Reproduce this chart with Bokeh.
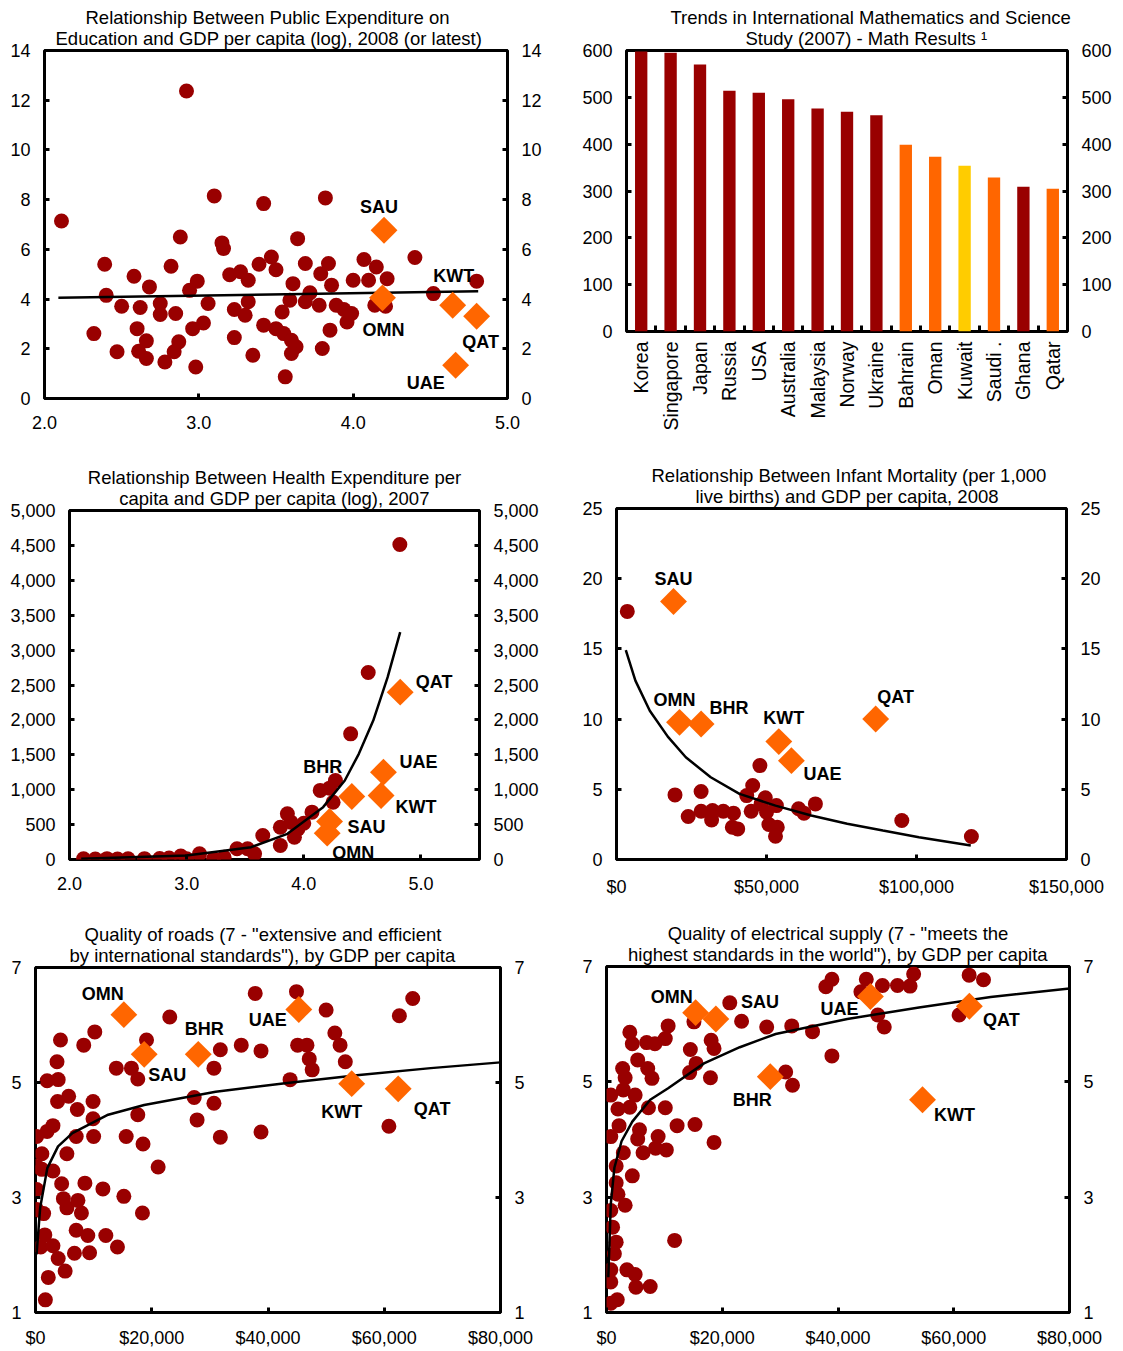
import math
from bokeh.plotting import figure
from bokeh.models import Range1d, LinearAxis, FixedTicker, NumeralTickFormatter, Title
from bokeh.layouts import column, row
from bokeh.embed import file_html
from bokeh.resources import INLINE
from bokeh.core.properties import value

FONT = "Liberation Sans"
DARK = "#990000"
ORANGE = "#FF6600"
YELLOW = "#FFCC00"

# ---------------- Panel 1: education vs log GDP ----------------
edu_x = [2.11, 2.92, 3.10, 3.42, 3.82, 2.88, 3.15, 3.16, 3.64, 2.39, 2.40, 2.32, 2.58, 2.50,
         2.47, 2.62, 2.60, 2.66, 2.66, 2.61, 2.68, 2.75, 2.75, 2.82, 2.85, 2.87, 2.78, 2.84,
         2.94, 2.99, 2.96, 3.03, 2.98, 3.06, 3.20, 3.23, 3.23, 3.30, 3.32, 3.32, 3.35, 3.39,
         3.42, 3.50, 3.47, 3.50, 3.54, 3.55, 3.56, 3.59, 3.61, 3.60, 3.63, 3.60, 3.69, 3.69,
         3.72, 3.78, 3.79, 3.80, 3.84, 3.86, 3.85, 3.89, 3.94, 3.96, 4.00, 3.99, 4.07, 4.10,
         4.15, 4.14, 4.22, 4.21, 4.40, 4.52, 4.80, 3.27]
edu_y = [7.14, 12.37, 8.15, 7.84, 8.07, 6.50, 6.26, 6.03, 6.43, 5.40, 4.15, 2.61, 4.92, 3.71,
         1.88, 3.66, 2.81, 1.61, 2.32, 1.90, 4.49, 3.82, 3.38, 5.32, 3.42, 2.28, 1.47, 1.88,
         4.35, 4.72, 2.81, 3.04, 1.27, 3.82, 4.98, 3.58, 2.45, 3.35, 3.89, 4.76, 1.74, 5.40,
         2.95, 2.81, 5.69, 5.18, 3.48, 2.61, 0.87, 3.95, 4.62, 2.34, 2.08, 1.81, 5.43, 3.89,
         4.25, 3.75, 5.02, 2.01, 5.43, 4.56, 2.75, 3.75, 3.58, 3.08, 4.76, 3.42, 5.59, 4.76,
         5.29, 3.75, 4.82, 3.71, 5.67, 4.22, 4.72, 5.10]
edu_gcc = ["SAU", "OMN", "KWT", "QAT", "UAE"]
edu_gcc_x = [4.20, 4.19, 4.645, 4.80, 4.664]
edu_gcc_y = [6.77, 4.05, 3.75, 3.31, 1.34]
edu_trend_x = [2.09, 4.81]
edu_trend_y = [4.05, 4.31]

# ---------------- Panel 2: TIMSS math ----------------
timss_countries = ["Korea", "Singapore", "Japan", "Russia", "USA", "Australia", "Malaysia",
                   "Norway", "Ukraine", "Bahrain", "Oman", "Kuwait", "Saudi .", "Ghana", "Qatar"]
timss_scores = [598, 595, 570, 514, 510, 496, 476, 469, 462, 399, 373, 354, 329, 309, 305]
timss_group = ["other"] * 9 + ["gcc", "gcc", "kwt", "gcc", "other", "gcc"]

# ---------------- Panel 3: health expenditure vs log GDP ----------------
hea_x = [4.82, 4.55, 4.40, 4.22, 4.27, 4.25, 4.07, 3.86, 3.89, 3.80, 3.95, 3.92, 3.65, 3.80,
         3.52, 3.58, 3.43, 3.32, 3.23, 3.11, 3.00, 2.95, 2.85, 2.77, 2.64, 2.50, 2.41, 2.32,
         2.22, 2.12, 4.14, 4.00]
hea_y = [4513, 2679, 1800, 1022, 1132, 821, 678, 654, 535, 463, 439, 320, 344, 200,
         153, 81, 153, 33, 10, 81, 10, 50, 20, 15, 12, 10, 8, 12,
         6, 10, 990, 520]
hea_gcc = ["QAT", "UAE", "KWT", "BHR", "SAU", "OMN"]
hea_gcc_x = [4.823, 4.68, 4.66, 4.41, 4.22, 4.20]
hea_gcc_y = [2397, 1251, 917, 903, 544, 377]
hea_trend_x = [2.10, 3.00, 3.55, 3.86, 4.165, 4.35, 4.47, 4.593, 4.716, 4.823]
hea_trend_y = [10, 57, 177, 368, 750, 1132, 1514, 1991, 2612, 3257]

# ---------------- Panel 4: infant mortality vs GDP ----------------
inf_x = [3600, 19500, 23900, 28200, 28200, 31700, 32000, 35600, 39000, 38600, 40400, 43400,
         45400, 44900, 47800, 48200, 49600, 50000, 50800, 53300, 53600, 53000, 60700, 62500,
         66300, 95100, 118300]
inf_y = [17.67, 4.60, 3.06, 4.84, 3.44, 2.82, 3.49, 3.44, 3.30, 2.30, 2.18, 4.55,
         5.27, 3.44, 6.69, 3.96, 4.39, 3.37, 2.49, 3.84, 2.30, 1.66, 3.61, 3.30,
         3.96, 2.78, 1.64]
inf_gcc = ["SAU", "OMN", "BHR", "KWT", "UAE", "QAT"]
inf_gcc_x = [19000, 21000, 28200, 54100, 58300, 86400]
inf_gcc_y = [18.38, 9.77, 9.65, 8.40, 7.04, 10.01]
inf_trend_x = [3100, 6300, 11100, 17100, 23100, 31400, 41000, 53000, 64900, 76900, 88800, 100800, 118100]
inf_trend_y = [14.92, 12.74, 10.60, 8.75, 7.28, 5.86, 4.67, 3.84, 3.13, 2.54, 2.06, 1.59, 1.00]

# ---------------- Panel 5: quality of roads vs GDP ----------------
road_x = [1700, 2200, 3900, 5100, 6700, 9300, 900, 3000, 1600, 7000, 9000, 12100, 14100, 1400,
          7900, 5400, 18400, 200, 7300, 4800, 15200, 200, 4500, 8500, 11600, 1100, 3000, 200,
          1100, 5400, 21100, 2000, 200, 7000, 10000, 15600, 18500, 3000, 9900, 7200, 17600,
          5700, 3800, 9900, 3900, 2000, 3700, 4300, 8300, 10200, 13900, 16500, 17600, 19100,
          23100, 27300, 27800, 30700, 30700, 31800, 31800, 35400, 37800, 38800, 38800, 43800,
          44900, 45100, 46700, 47100, 47600, 50000, 51500, 52400, 53300, 60800, 62600, 64900]
road_y = [1.22, 1.61, 1.94, 1.72, 2.03, 2.04, 2.14, 2.16, 2.35, 2.43, 2.34, 2.34, 2.14, 2.72,
          2.73, 2.82, 2.73, 2.79, 2.95, 2.98, 3.02, 3.14, 3.24, 3.25, 3.15, 3.49, 3.46, 3.54,
          3.76, 3.76, 3.53, 4.15, 4.06, 4.06, 4.06, 4.06, 3.93, 4.25, 4.37, 4.53, 4.44,
          4.76, 4.67, 4.67, 5.05, 5.03, 5.36, 5.74, 5.65, 5.88, 5.25, 5.25, 5.06, 5.74,
          6.14, 4.74, 4.35, 4.64, 5.25, 5.57, 4.05, 5.65, 6.55, 5.55, 4.14, 5.05,
          6.58, 5.65, 5.65, 5.41, 5.22, 6.26, 5.86, 5.65, 5.36, 4.24, 6.16, 6.46]
road_gcc = ["OMN", "SAU", "BHR", "UAE", "KWT", "QAT"]
road_gcc_x = [15200, 18700, 28000, 45300, 54400, 62400]
road_gcc_y = [6.18, 5.49, 5.49, 6.27, 4.98, 4.89]
road_trend_x = [185, 800, 2030, 3880, 6350, 12500, 18700, 31000, 43300, 55700, 68000, 80000]
road_trend_y = [2.01, 2.82, 3.51, 3.89, 4.12, 4.44, 4.61, 4.84, 4.99, 5.13, 5.25, 5.35]

# ---------------- Panel 6: quality of electrical supply vs GDP ----------------
elec_x = [740, 1860, 740, 740, 3530, 4950, 5080, 7550, 1360, 1670, 1050, 11770, 740, 3220,
          1980, 1670, 4460, 1670, 2910, 6320, 8480, 10340, 740, 5390, 8920, 5700, 2170, 12200,
          15290, 18580, 4030, 7250, 10160, 1980, 740, 4950, 2910, 3220, 7860, 7120, 2790, 5390,
          14370, 17960, 15480, 14490, 18580, 18080, 4460, 6940, 8360, 10160, 10650, 4030,
          15110, 21300, 23340, 27680, 30960, 32140, 32010, 35600, 37900, 38950, 38950, 43960,
          44890, 47680, 46870, 47990, 50280, 53070, 52450, 60930, 62660, 65140]
elec_y = [1.16, 1.22, 1.53, 1.74, 1.74, 1.66, 1.44, 1.45, 2.02, 2.22, 2.48, 2.25, 2.77, 2.86,
          3.05, 3.25, 3.37, 3.54, 3.77, 3.77, 3.85, 3.82, 4.05, 4.01, 4.05, 4.17, 4.24, 4.24,
          4.26, 3.95, 4.56, 4.55, 4.55, 4.53, 4.77, 4.77, 4.86, 5.07, 5.06, 5.23, 5.23, 5.38,
          5.16, 5.07, 5.32, 5.56, 5.58, 5.72, 5.66, 5.68, 5.66, 5.75, 5.97, 5.86,
          6.04, 6.37, 6.05, 5.95, 5.17, 4.94, 5.97, 5.87, 6.65, 6.78, 5.45, 6.56,
          6.78, 6.67, 6.16, 5.95, 6.67, 6.87, 6.66, 6.16, 6.85, 6.77]
elec_gcc = ["OMN", "SAU", "UAE", "QAT", "BHR", "KWT"]
elec_gcc_x = [15400, 18900, 45600, 62700, 28300, 54600]
elec_gcc_y = [6.20, 6.09, 6.48, 6.31, 5.09, 4.69]
elec_trend_x = [310, 740, 1360, 2600, 4460, 7550, 10650, 16840, 23030, 29230, 41610, 53990, 66380, 80000]
elec_trend_y = [1.61, 2.88, 3.51, 3.97, 4.31, 4.69, 4.89, 5.32, 5.60, 5.83, 6.09, 6.29, 6.47, 6.62]


# ---------------- helpers ----------------
def style_axis(ax, ticks, fmt, standoff):
    ax.ticker = FixedTicker(ticks=ticks)
    if fmt:
        ax.formatter = NumeralTickFormatter(format=fmt)
    ax.axis_line_color = None
    ax.major_tick_in = 5
    ax.major_tick_out = 0
    ax.major_tick_line_width = 3
    ax.major_tick_line_color = "black"
    ax.minor_tick_line_color = None
    ax.major_label_text_font = FONT
    ax.major_label_text_font_size = "18px"
    ax.major_label_text_color = "black"
    ax.major_label_standoff = standoff


def make_panel(w, h, xr, yr, border, xticks, yticks, xfmt=None, yfmt=None, xstand=17):
    l, r, t, b = border
    p = figure(width=w, height=h, x_range=Range1d(*xr), y_range=Range1d(*yr),
               output_backend="svg", toolbar_location=None, frame_align=False,
               min_border_left=l, min_border_right=r, min_border_top=t, min_border_bottom=b)
    p.xgrid.visible = False
    p.ygrid.visible = False
    p.outline_line_color = "black"
    p.outline_line_width = 3
    p.outline_line_alpha = 1.0
    p.background_fill_color = "white"
    p.border_fill_color = "white"
    p.add_layout(LinearAxis(), "right")
    for ax in p.xaxis:
        style_axis(ax, xticks, xfmt, xstand)
    for ax in p.yaxis:
        style_axis(ax, yticks, yfmt, 14)
    return p


def add_title(p, lines, align="center", offsets=(0, 0)):
    # lines[0] is the top line; the line nearest the frame is added first
    line1, line2 = lines
    for txt, off, so in ((line2, offsets[1], 4), (line1, offsets[0], -8)):
        p.add_layout(Title(text=txt, align=align, offset=off, standoff=so,
                           text_font=FONT, text_font_size="18.5px", text_font_style="normal",
                           text_color="black", text_line_height=1.0), "above")


def scatter_panel(p, xs, ys, tx, ty, gx, gy, names, offsets):
    p.scatter(xs, ys, marker="circle", size=15, fill_color=DARK, line_color=None)
    p.line(tx, ty, line_color="black", line_width=2.5)
    p.scatter(gx, gy, marker="square", angle=math.pi / 4, size=19,
              fill_color=ORANGE, line_color=None)
    p.text(gx, gy, text=names, x_offset=[o[0] for o in offsets], y_offset=[o[1] for o in offsets],
           text_font=value(FONT), text_font_style="bold", text_font_size="18px",
           text_color="black", text_align="center", text_baseline="middle")


# ---------------- Panel 1 ----------------
p1 = make_panel(560, 456, (2, 5), (0, 14), (44, 53, 50, 58), [2, 3, 4, 5],
                [0, 2, 4, 6, 8, 10, 12, 14], xfmt="0.0")
scatter_panel(p1, edu_x, edu_y, edu_trend_x, edu_trend_y, edu_gcc_x, edu_gcc_y, edu_gcc,
              [(-5, -23), (1, 32), (1, -29), (4, 26), (-30, 18)])
add_title(p1, ("Relationship Between Public Expenditure on",
               "Education and GDP per capita (log), 2008 (or latest)"),
          align="left", offsets=(41, 11))

# ---------------- Panel 2 ----------------
n = len(timss_countries)
bar_x = [i + 0.5 for i in range(n)]
color_map = {"other": DARK, "gcc": ORANGE, "kwt": YELLOW}
bar_colors = [color_map[g] for g in timss_group]
p2 = make_panel(562, 456, (0, n), (0, 600), (66, 55, 50, 125), bar_x,
                [0, 100, 200, 300, 400, 500, 600])
p2.vbar(x=bar_x, top=timss_scores, width=0.42, fill_color=bar_colors, line_color=None)
ax2 = p2.xaxis[0]
ax2.ticker = FixedTicker(ticks=bar_x, minor_ticks=list(range(1, n)))
ax2.major_label_overrides = {bx: c for bx, c in zip(bar_x, timss_countries)}
ax2.major_tick_in = 0
ax2.minor_tick_in = 6
ax2.minor_tick_out = 0
ax2.minor_tick_line_width = 3
ax2.minor_tick_line_color = "black"
ax2.major_label_orientation = math.pi / 2
ax2.major_label_text_font_size = "19.5px"
ax2.major_label_standoff = 10
add_title(p2, ("Trends in International Mathematics and Science",
               "Study (2007) - Math Results  \u00b9"), align="left", offsets=(44, 119))

# ---------------- Panel 3 ----------------
p3 = make_panel(560, 456, (2, 5.5), (0, 5000), (69, 81, 54, 53), [2, 3, 4, 5],
                list(range(0, 5001, 500)), xfmt="0.0", yfmt="0,0")
scatter_panel(p3, hea_x, hea_y, hea_trend_x, hea_trend_y, hea_gcc_x, hea_gcc_y, hea_gcc,
              [(34, -10), (35, -10), (35, 12), (-29, -29), (37, 5), (26, 20)])
add_title(p3, ("Relationship Between Health Expenditure per",
               "capita and GDP per capita (log), 2007"))

# ---------------- Panel 4 ----------------
p4 = make_panel(562, 456, (0, 150000), (0, 25), (56, 56, 52, 53), [0, 50000, 100000, 150000],
                [0, 5, 10, 15, 20, 25], xfmt="$0,0")
scatter_panel(p4, inf_x, inf_y, inf_trend_x, inf_trend_y, inf_gcc_x, inf_gcc_y, inf_gcc,
              [(0, -22), (-5, -22), (28, -16), (5, -24), (31, 13), (20, -22)])
add_title(p4, ("Relationship Between Infant Mortality (per 1,000",
               "live births) and GDP per capita, 2008"),
          align="left", offsets=(35, 79))

# ---------------- Panel 5 ----------------
p5 = make_panel(560, 438, (0, 80000), (1, 7), (35, 60, 55, 37), [0, 20000, 40000, 60000, 80000],
                [1, 3, 5, 7], xfmt="$0,0", xstand=15)
scatter_panel(p5, road_x, road_y, road_trend_x, road_trend_y, road_gcc_x, road_gcc_y, road_gcc,
              [(-21, -21), (23, 21), (6, -25), (-31, 11), (-10, 28), (34, 20)])
add_title(p5, ("Quality of roads (7 - \"extensive and efficient",
               "by international standards\"), by GDP per capita"),
          align="left", offsets=(49, 34))

# ---------------- Panel 6 ----------------
p6 = make_panel(562, 438, (0, 80000), (1, 7), (46, 53, 54, 36), [0, 20000, 40000, 60000, 80000],
                [1, 3, 5, 7], xfmt="$0,0", xstand=15)
scatter_panel(p6, elec_x, elec_y, elec_trend_x, elec_trend_y, elec_gcc_x, elec_gcc_y, elec_gcc,
              [(-24, -16), (44, -17), (-31, 13), (32, 14), (-18, 23), (32, 15)])
add_title(p6, ("Quality of electrical supply (7 - \"meets the",
               "highest standards in the world\"), by GDP per capita"))

layout = column(row(p1, p2), row(p3, p4), row(p5, p6))
open("out.html", "w").write(file_html(layout, INLINE))
